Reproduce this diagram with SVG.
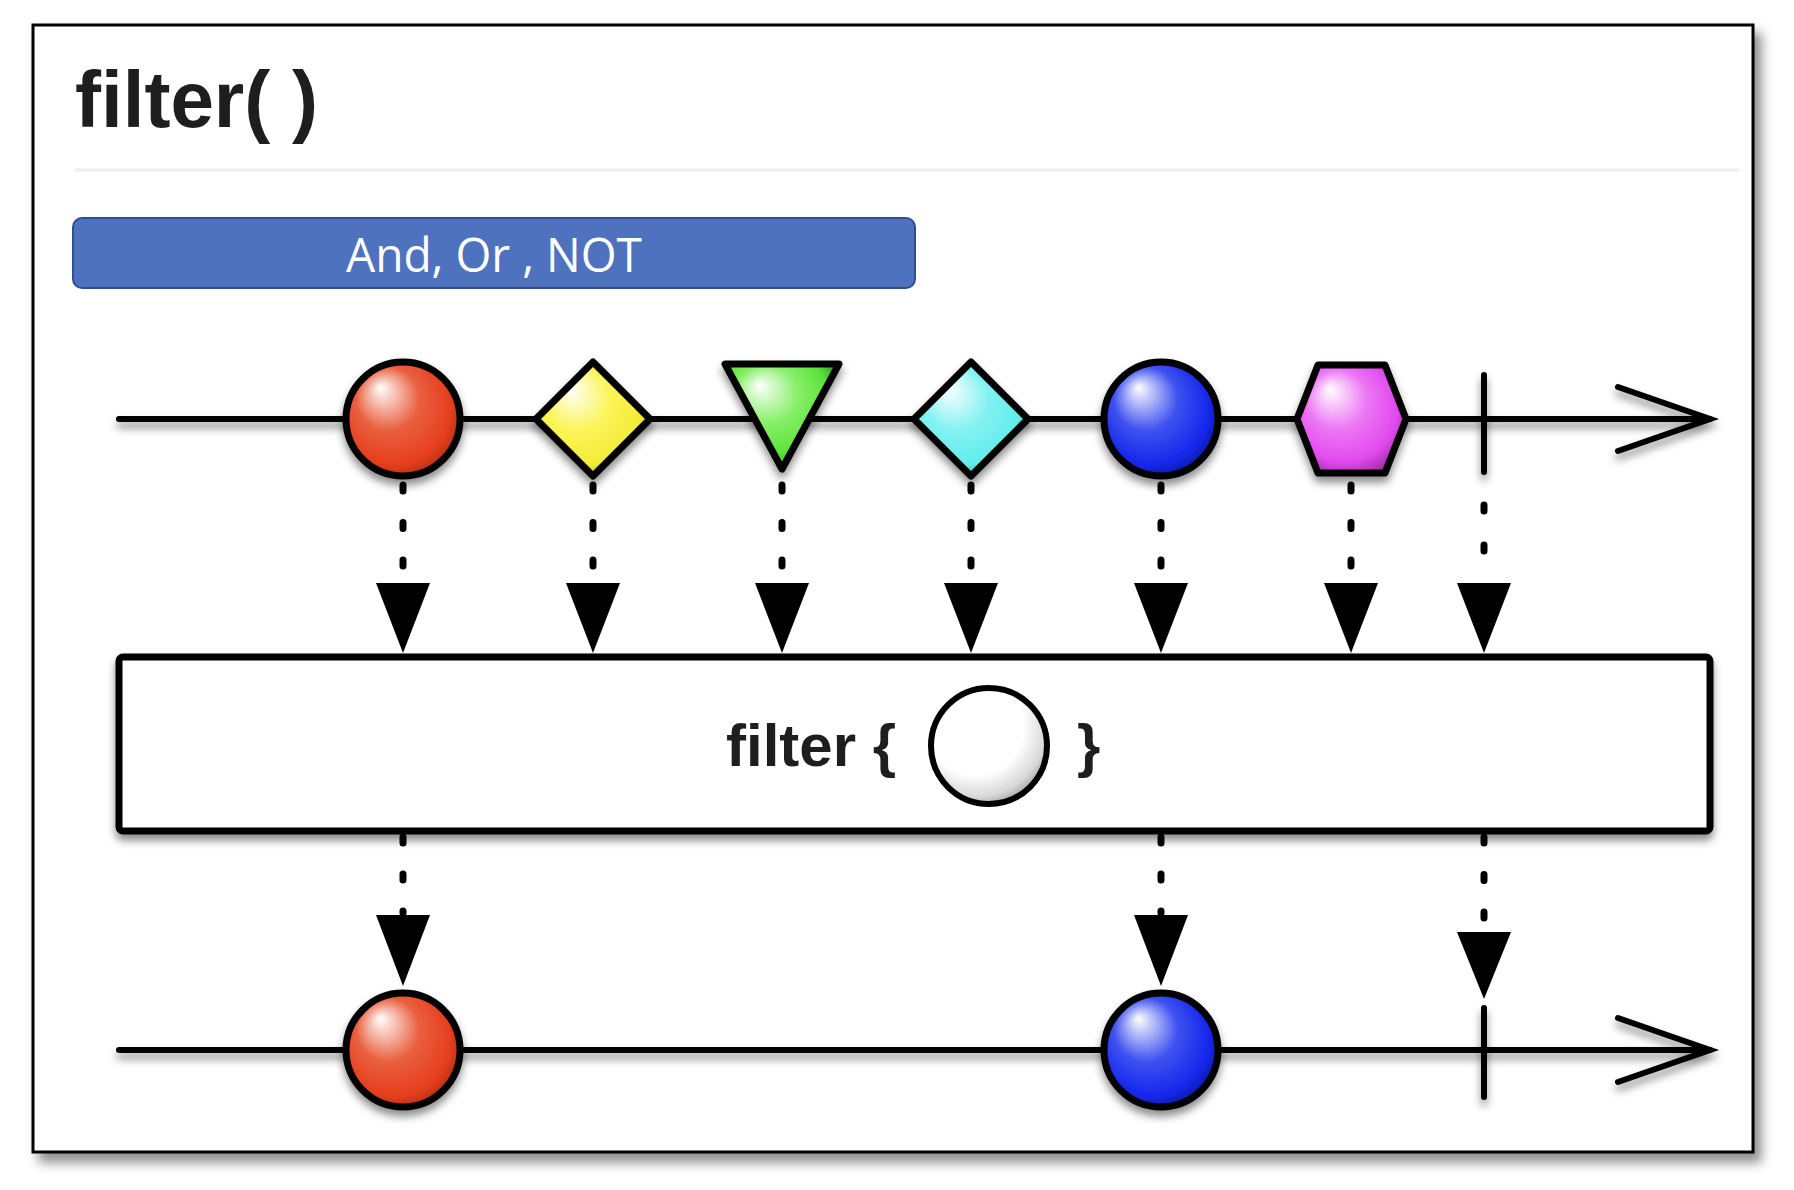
<svg xmlns="http://www.w3.org/2000/svg" width="1794" height="1190" viewBox="0 0 1794 1190">
<defs>
  <filter id="frameShadow" x="-5%" y="-5%" width="115%" height="115%">
    <feDropShadow dx="7" dy="9" stdDeviation="6" flood-color="#000" flood-opacity="0.45"/>
  </filter>
  <filter id="sh" x="-20%" y="-20%" width="140%" height="150%">
    <feDropShadow dx="0" dy="6" stdDeviation="4.5" flood-color="#000" flood-opacity="0.45"/>
  </filter>
  <filter id="shU" filterUnits="userSpaceOnUse" x="0" y="0" width="1794" height="1190">
    <feDropShadow dx="0" dy="6" stdDeviation="4.5" flood-color="#000" flood-opacity="0.45"/>
  </filter>
  <radialGradient id="gRed" cx="0.45" cy="0.45" r="0.62" fx="0.3" fy="0.22">
    <stop offset="0" stop-color="#ffffff"/>
    <stop offset="0.45" stop-color="#e9603f"/>
    <stop offset="0.8" stop-color="#e63f1e"/>
    <stop offset="1" stop-color="#a52a10"/>
  </radialGradient>
  <radialGradient id="gYellow" cx="0.45" cy="0.45" r="0.62" fx="0.3" fy="0.22">
    <stop offset="0" stop-color="#ffffff"/>
    <stop offset="0.45" stop-color="#fbf55a"/>
    <stop offset="0.8" stop-color="#f4ea36"/>
    <stop offset="1" stop-color="#b8a820"/>
  </radialGradient>
  <radialGradient id="gGreen" cx="0.45" cy="0.4" r="0.62" fx="0.3" fy="0.2">
    <stop offset="0" stop-color="#ffffff"/>
    <stop offset="0.45" stop-color="#86ef68"/>
    <stop offset="0.8" stop-color="#5ce23a"/>
    <stop offset="1" stop-color="#3aa820"/>
  </radialGradient>
  <radialGradient id="gCyan" cx="0.45" cy="0.45" r="0.62" fx="0.3" fy="0.22">
    <stop offset="0" stop-color="#ffffff"/>
    <stop offset="0.45" stop-color="#84f2f2"/>
    <stop offset="0.8" stop-color="#62ecec"/>
    <stop offset="1" stop-color="#3ab0b0"/>
  </radialGradient>
  <radialGradient id="gBlue" cx="0.45" cy="0.45" r="0.62" fx="0.3" fy="0.22">
    <stop offset="0" stop-color="#ffffff"/>
    <stop offset="0.45" stop-color="#3f52f0"/>
    <stop offset="0.8" stop-color="#1428ec"/>
    <stop offset="1" stop-color="#0a148c"/>
  </radialGradient>
  <radialGradient id="gMagenta" cx="0.45" cy="0.45" r="0.62" fx="0.3" fy="0.22">
    <stop offset="0" stop-color="#ffffff"/>
    <stop offset="0.45" stop-color="#ec76f4"/>
    <stop offset="0.8" stop-color="#e24aee"/>
    <stop offset="1" stop-color="#9a2aa4"/>
  </radialGradient>
  <radialGradient id="gWhite" cx="0.4" cy="0.35" r="0.7" fx="0.35" fy="0.3">
    <stop offset="0" stop-color="#ffffff"/>
    <stop offset="0.6" stop-color="#ffffff"/>
    <stop offset="0.85" stop-color="#d8d8d8"/>
    <stop offset="1" stop-color="#9a9a9a"/>
  </radialGradient>
  <style>
    .shape { stroke:#000; stroke-width:7; stroke-linejoin:round; }
    .timeline { stroke:#000; stroke-width:6; stroke-linecap:round; fill:none; }
    .chev { stroke:#000; stroke-width:6; stroke-linecap:round; stroke-linejoin:miter; fill:none; }
    .tick { stroke:#000; stroke-width:6; stroke-linecap:round; }
    .dots { stroke:#000; stroke-width:7; stroke-linecap:round; fill:none; }
    .head { fill:#000; }
    .title { font-family:"Liberation Sans", Arial, sans-serif; font-weight:bold; fill:#1e1e1e; }
    .btnText { font-family:"Open Sans", "Liberation Sans", sans-serif; fill:#ffffff; }
  </style>
</defs>

<rect width="1794" height="1190" fill="#ffffff"/>

<g id="frame">
  <rect x="33" y="25" width="1720" height="1127" fill="#ffffff" stroke="#000" stroke-width="3" filter="url(#frameShadow)"/>
</g>

<g id="title">
  <text class="title" x="75" y="127" font-size="80" textLength="243" lengthAdjust="spacingAndGlyphs">filter( )</text>
  <line x1="75" y1="170" x2="1739" y2="170" stroke="#eeeeee" stroke-width="3"/>
</g>

<g id="button">
  <rect x="73" y="218" width="842" height="70" rx="9" ry="9" fill="#4f72be" stroke="#2f4f8f" stroke-width="2"/>
  <text class="btnText" x="494" y="272" font-size="48" text-anchor="middle" textLength="296" lengthAdjust="spacingAndGlyphs">And, Or , NOT</text>
</g>

<g id="source-stream" filter="url(#shU)">
  <line class="timeline" x1="119" y1="419" x2="1710" y2="419"/>
  <polyline class="chev" points="1618,387 1710,419 1618,451"/>
</g>

<g id="item-red" filter="url(#sh)">
  <circle class="shape" cx="403" cy="419" r="57" fill="url(#gRed)"/>
</g>
<g id="item-yellow" filter="url(#sh)">
  <polygon class="shape" points="593,362 650,419 593,476 536,419" fill="url(#gYellow)"/>
</g>
<g id="item-green" filter="url(#sh)">
  <polygon class="shape" points="725,364 839,364 782,469" fill="url(#gGreen)"/>
</g>
<g id="item-cyan" filter="url(#sh)">
  <polygon class="shape" points="971,362 1028,419 971,476 914,419" fill="url(#gCyan)"/>
</g>
<g id="item-blue" filter="url(#sh)">
  <circle class="shape" cx="1161" cy="419" r="57" fill="url(#gBlue)"/>
</g>
<g id="item-magenta" filter="url(#sh)">
  <polygon class="shape" points="1318,365 1385,365 1406,419 1385,473 1318,473 1297,419" fill="url(#gMagenta)"/>
</g>
<g id="complete-top" filter="url(#shU)">
  <line class="tick" x1="1484" y1="375" x2="1484" y2="472"/>
</g>

<g id="filter-box">
  <rect x="119" y="657" width="1591" height="174" rx="4" ry="4" fill="#ffffff" stroke="#000" stroke-width="7" filter="url(#sh)"/>
  <text class="title" x="726" y="766" font-size="60">filter {</text>
  <circle cx="989" cy="746" r="58" fill="url(#gWhite)" stroke="#000" stroke-width="6"/>
  <text class="title" x="1077" y="766" font-size="60">}</text>
</g>

<g id="result-stream" filter="url(#shU)">
  <line class="timeline" x1="119" y1="1050" x2="1710" y2="1050"/>
  <polyline class="chev" points="1618,1018 1710,1050 1618,1082"/>
</g>
<g id="out-red" filter="url(#sh)">
  <circle class="shape" cx="403" cy="1050" r="57" fill="url(#gRed)"/>
</g>
<g id="out-blue" filter="url(#sh)">
  <circle class="shape" cx="1161" cy="1050" r="57" fill="url(#gBlue)"/>
</g>
<g id="complete-bottom" filter="url(#shU)">
  <line class="tick" x1="1484" y1="1008" x2="1484" y2="1097"/>
</g>

<g id="connectors">
  <path class="dots" d="M403,485 V575" stroke-dasharray="6 31.5"/>
  <path class="dots" d="M593,485 V575" stroke-dasharray="6 31.5"/>
  <path class="dots" d="M782,485 V575" stroke-dasharray="6 31.5"/>
  <path class="dots" d="M971,485 V575" stroke-dasharray="6 31.5"/>
  <path class="dots" d="M1161,485 V575" stroke-dasharray="6 31.5"/>
  <path class="dots" d="M1351,485 V575" stroke-dasharray="6 31.5"/>
  <path class="dots" d="M1484,505 V575" stroke-dasharray="6 34"/>
  <polygon class="head" points="376,583 430,583 403,653"/>
  <polygon class="head" points="566,583 620,583 593,653"/>
  <polygon class="head" points="755,583 809,583 782,653"/>
  <polygon class="head" points="944,583 998,583 971,653"/>
  <polygon class="head" points="1134,583 1188,583 1161,653"/>
  <polygon class="head" points="1324,583 1378,583 1351,653"/>
  <polygon class="head" points="1457,583 1511,583 1484,653"/>
  <path class="dots" d="M403,837 V913" stroke-dasharray="6 31"/>
  <path class="dots" d="M1161,837 V913" stroke-dasharray="6 31"/>
  <path class="dots" d="M1484,837 V922" stroke-dasharray="6 31.5"/>
  <polygon class="head" points="376,915 430,915 403,986"/>
  <polygon class="head" points="1134,915 1188,915 1161,986"/>
  <polygon class="head" points="1457,932 1511,932 1484,999"/>
</g>
</svg>
